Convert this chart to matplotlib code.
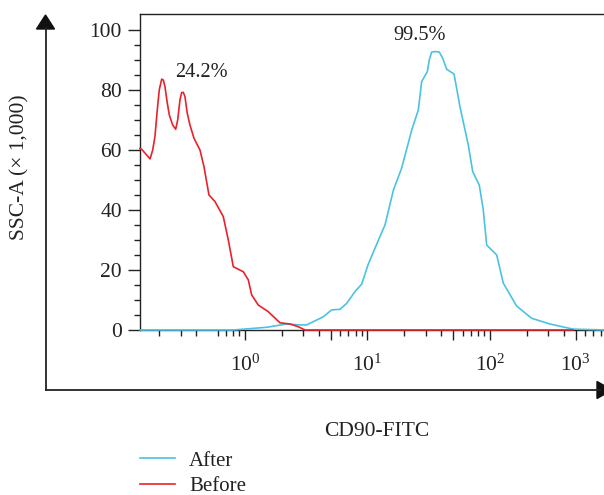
import matplotlib
matplotlib.use("Agg")
import matplotlib.pyplot as plt
from matplotlib.lines import Line2D
from matplotlib.patches import Polygon
from matplotlib.ticker import FixedLocator, FixedFormatter, NullFormatter

plt.rcParams['font.family'] = ['Liberation Serif', 'DejaVu Serif']
plt.rcParams['mathtext.fontset'] = 'custom'
plt.rcParams['mathtext.rm'] = 'Liberation Serif'
plt.rcParams['mathtext.it'] = 'Liberation Serif'

# ---- data ----
before_x = [0.139, 0.1435, 0.168, 0.1765, 0.184, 0.1923, 0.1996, 0.209, 0.2155, 0.2223,
            0.2322, 0.241, 0.257, 0.2717, 0.2823, 0.2946, 0.304, 0.3135, 0.3236, 0.338,
            0.3556, 0.3835, 0.429, 0.463, 0.508, 0.569, 0.665, 0.731, 0.803, 0.969,
            1.064, 1.134, 1.285, 1.55, 1.93, 2.33, 2.72, 3.09, 476]
before_y = [60.5, 60.2, 57.0, 60.0, 64.4, 73.3, 80.0, 83.6, 83.3, 81.1,
            75.6, 71.7, 68.3, 66.9, 70.0, 76.7, 79.1, 79.2, 77.8, 72.2,
            68.3, 63.9, 60.0, 54.4, 45.0, 42.8, 37.8, 30.0, 21.1, 19.4,
            16.7, 11.7, 8.3, 6.1, 2.4, 2.0, 1.1, 0.0, 0.0]

after_x = [0.139, 0.80, 1.50, 2.19, 2.81, 3.19, 4.36, 5.10, 5.97, 6.77, 7.91, 8.97,
           10.1, 11.5, 13.9, 16.3, 19.0, 23.0, 26.0, 27.7, 30.8, 31.96, 33.4, 35.56,
           38.6, 41.1, 44.3, 50.9, 56.9, 66.5, 72.3, 81.8, 88.2, 94.0, 113.5, 128.5,
           165, 219, 309, 476, 853]
after_y = [0.0, 0.0, 0.9, 2.0, 1.7, 1.7, 4.4, 6.7, 6.9, 8.9, 12.8, 15.3,
           21.7, 27.2, 35.0, 46.7, 53.9, 66.7, 73.3, 82.8, 86.1, 90.0, 92.6, 92.8,
           92.6, 90.6, 86.9, 85.3, 74.4, 61.7, 52.8, 48.3, 40.0, 28.3, 25.0, 15.6,
           8.0, 3.9, 2.0, 0.3, 0.0]

x_major = [1, 5, 10, 50, 100, 500]
x_major_labels = ['$10^0$', '', '$10^1$', '', '$10^2$', '$10^3$']
x_minor = [0.2, 0.3, 0.4, 0.6, 0.7, 0.8, 0.9, 2, 3, 4, 6, 7, 8, 9,
           20, 30, 40, 60, 70, 80, 90, 200, 300, 400, 600, 700, 800]
y_major = [0, 20, 40, 60, 80, 100]

annotations = [("24.2%", 0.44, 85.7), ("99.5%", 26.8, 98.3)]

RED = '#e8222b'
BLUE = '#4cc2e2'
INK = '#222222'

W, H = 604, 495
fig = plt.figure(figsize=(W / 100, H / 100), dpi=100)

def fx(px):
    return px / W

def fy(py):
    return 1 - py / H

ax = fig.add_axes([fx(140), fy(330), fx(604) - fx(140), fy(14) - fy(330)])
ax.set_xscale('log')
ax.plot(after_x, after_y, color=BLUE, lw=1.2, label='After', zorder=3, clip_on=False)
ax.plot(before_x, before_y, color=RED, lw=1.2, label='Before', zorder=4, clip_on=False)
ax.set_xlim(0.139, 853)
ax.set_ylim(0, 105.3)

for s in ['left', 'top', 'bottom']:
    ax.spines[s].set_color(INK)
    ax.spines[s].set_linewidth(1.0)
ax.spines['right'].set_visible(False)

ax.xaxis.set_major_locator(FixedLocator(x_major))
ax.xaxis.set_major_formatter(FixedFormatter(x_major_labels))
ax.xaxis.set_minor_locator(FixedLocator(x_minor))
ax.xaxis.set_minor_formatter(NullFormatter())
ax.set_yticks(y_major)
ax.yaxis.set_minor_locator(FixedLocator([v for v in range(5, 105, 5) if v % 20]))

ax.tick_params(axis='x', which='major', direction='out', length=7, width=1.0,
               color=INK, labelsize=15.5, pad=11, labelcolor=INK)
ax.tick_params(axis='x', which='minor', direction='out', length=4, width=1.0, color=INK)
ax.tick_params(axis='y', which='major', direction='out', length=9, width=1.0,
               color=INK, labelsize=15.5, pad=4, labelcolor=INK)
ax.tick_params(axis='y', which='minor', direction='out', length=4, width=1.0, color=INK)

for txt, xv, yv in annotations:
    ax.text(xv, yv, txt, ha='center', va='center', fontsize=14.7, color=INK)

# outer arrow axes
fig.add_artist(Line2D([fx(45.5), fx(45.5)], [fy(390), fy(28)], color=INK, lw=1.3))
fig.add_artist(Line2D([fx(45.5), fx(600)], [fy(390), fy(390)], color=INK, lw=1.3))
fig.add_artist(Polygon([[fx(36.5), fy(29)], [fx(54.5), fy(29)], [fx(45.5), fy(15)]],
                       closed=True, color='#111111', transform=fig.transFigure))
fig.add_artist(Polygon([[fx(597), fy(381.5)], [fx(597), fy(398.5)], [fx(612), fy(390)]],
                       closed=True, color='#111111', transform=fig.transFigure))

fig.text(fx(20), fy(167), 'SSC-A (× 1,000)', rotation=90, ha='center', va='center',
         fontsize=15.5, color=INK)
fig.text(fx(377), fy(432), 'CD90-FITC', ha='center', va='center', fontsize=15.5, color=INK)

fig.legend(loc='upper left', bbox_to_anchor=(fx(140), fy(451)), frameon=False,
           fontsize=15, handlelength=1.68, handletextpad=0.67, labelspacing=0.3,
           borderpad=0, borderaxespad=0, labelcolor=INK)

fig.savefig('out.png', dpi=100)
